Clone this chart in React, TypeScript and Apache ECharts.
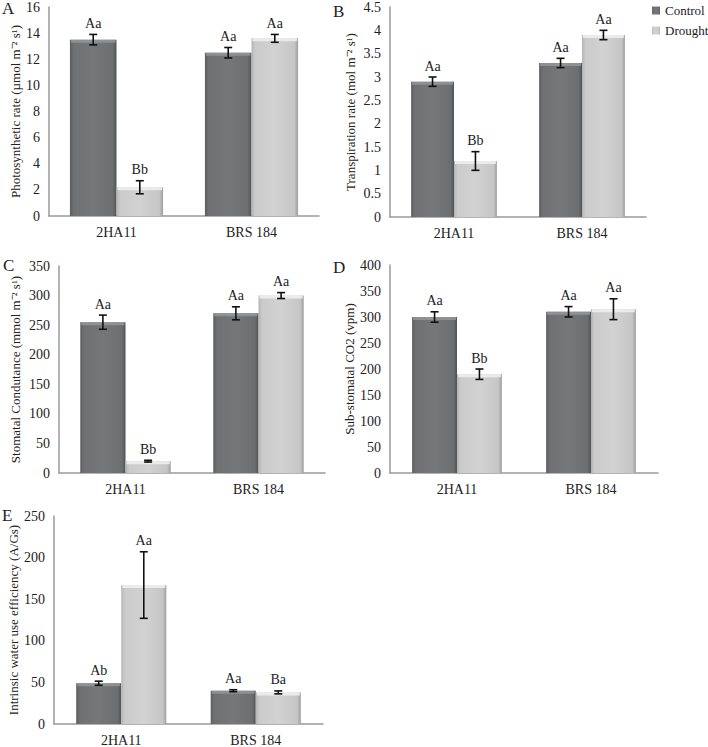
import React, { useEffect, useRef } from "react";
import * as echarts from "echarts";

const categories = ["2HA11", "BRS 184"];
const seriesNames = ["Control", "Drought"];

// A: Photosynthetic rate
const aControl = [13.5, 12.5];
const aDrought = [2.2, 13.6];
const aControlErr = [0.4, 0.4];
const aDroughtErr = [0.5, 0.3];
const aControlLbl = ["Aa", "Aa"];
const aDroughtLbl = ["Bb", "Aa"];

// B: Transpiration rate
const bControl = [2.9, 3.3];
const bDrought = [1.2, 3.9];
const bControlErr = [0.1, 0.1];
const bDroughtErr = [0.2, 0.1];
const bControlLbl = ["Aa", "Aa"];
const bDroughtLbl = ["Bb", "Aa"];

// C: Stomatal conductance
const cControl = [255, 270];
const cDrought = [20, 300];
const cControlErr = [12, 11];
const cDroughtErr = [1.5, 5];
const cControlLbl = ["Aa", "Aa"];
const cDroughtLbl = ["Bb", "Aa"];

// D: Sub-stomatal CO2
const dControl = [300, 310];
const dDrought = [190, 315];
const dControlErr = [10, 10];
const dDroughtErr = [10, 20];
const dControlLbl = ["Aa", "Aa"];
const dDroughtLbl = ["Bb", "Aa"];

// E: Intrinsic water use efficiency
const eControl = [49, 40];
const eDrought = [167, 38];
const eControlErr = [2.5, 1.2];
const eDroughtErr = [40, 1.8];
const eControlLbl = ["Ab", "Aa"];
const eDroughtLbl = ["Aa", "Ba"];

const aTicks = { min: 0, max: 16, interval: 2 };
const bTicks = { min: 0, max: 4.5, interval: 0.5 };
const cTicks = { min: 0, max: 350, interval: 50 };
const dTicks = { min: 0, max: 400, interval: 50 };
const eTicks = { min: 0, max: 250, interval: 50 };

const aTitle = "Photosynthetic rate (µmol m⁻² s¹)";
const bTitle = "Transpiration rate (mol m⁻² s¹)";
const cTitle = "Stomatal Condutance (mmol m⁻² s¹)";
const dTitle = "Sub-stomatal CO2 (vpm)";
const eTitle = "Intrinsic water use efficiency (A/Gs)";

const panelLetters = ["A", "B", "C", "D", "E"];

const FONT = '"Liberation Serif", "Times New Roman", serif';

export default function App() {
  const ref = useRef<HTMLDivElement>(null);
  useEffect(() => {
    document.body.style.margin = "0";
    if (!ref.current) return;
    const chart = echarts.init(ref.current, null, { renderer: "svg" });

    const panels = [
      { c: aControl, d: aDrought, ce: aControlErr, de: aDroughtErr, cl: aControlLbl, dl: aDroughtLbl, t: aTicks, title: aTitle,
        grid: { left: 49, top: 6, width: 270, height: 210 }, gap: 0.31, nameGap: 27 },
      { c: bControl, d: bDrought, ce: bControlErr, de: bDroughtErr, cl: bControlLbl, dl: bDroughtLbl, t: bTicks, title: bTitle,
        grid: { left: 390, top: 7, width: 256, height: 210 }, gap: 0.33, nameGap: 33 },
      { c: cControl, d: cDrought, ce: cControlErr, de: cDroughtErr, cl: cControlLbl, dl: cDroughtLbl, t: cTicks, title: cTitle,
        grid: { left: 59, top: 266, width: 266, height: 207 }, gap: 0.32, nameGap: 37 },
      { c: dControl, d: dDrought, ce: dControlErr, de: dDroughtErr, cl: dControlLbl, dl: dDroughtLbl, t: dTicks, title: dTitle,
        grid: { left: 390, top: 265, width: 268, height: 208 }, gap: 0.33, nameGap: 31 },
      { c: eControl, d: eDrought, ce: eControlErr, de: eDroughtErr, cl: eControlLbl, dl: eDroughtLbl, t: eTicks, title: eTitle,
        grid: { left: 54, top: 516, width: 269, height: 210 }, gap: 0.33, nameGap: 32 },
    ];

    const controlColor = new echarts.graphic.LinearGradient(0, 0, 1, 0, [
      { offset: 0, color: "#5b5d5f" },
      { offset: 0.08, color: "#6e7072" },
      { offset: 0.5, color: "#757779" },
      { offset: 0.92, color: "#6c6e70" },
      { offset: 1, color: "#505254" },
    ]);
    const droughtColor = new echarts.graphic.LinearGradient(0, 0, 1, 0, [
      { offset: 0, color: "#b4b4b4" },
      { offset: 0.08, color: "#cbcbcb" },
      { offset: 0.5, color: "#d2d2d2" },
      { offset: 0.92, color: "#c6c6c6" },
      { offset: 1, color: "#9e9e9e" },
    ]);

    const grids: any[] = [];
    const xAxes: any[] = [];
    const yAxes: any[] = [];
    const series: any[] = [];

    panels.forEach((p, i) => {
      grids.push({ ...p.grid, containLabel: false });
      xAxes.push({
        type: "category",
        gridIndex: i,
        data: categories,
        axisLine: { lineStyle: { color: "#9a9a9a", width: 1.5 } },
        axisTick: { show: false },
        axisLabel: { color: "#222", fontFamily: FONT, fontSize: 14, margin: 9 },
      });
      yAxes.push({
        type: "value",
        gridIndex: i,
        min: p.t.min,
        max: p.t.max,
        interval: p.t.interval,
        splitLine: { show: false },
        axisLine: { show: true, lineStyle: { color: "#9a9a9a", width: 1.5 } },
        axisTick: { show: false },
        axisLabel: { color: "#222", fontFamily: FONT, fontSize: 14, margin: 9 },
        name: p.title,
        nameLocation: "middle",
        nameGap: p.nameGap,
        nameTextStyle: { color: "#222", fontFamily: FONT, fontSize: 13 },
      });
      const vals = [p.c, p.d];
      const errs = [p.ce, p.de];
      const lbls = [p.cl, p.dl];
      [0, 1].forEach((s) => {
        series.push({
          type: "bar",
          name: seriesNames[s],
          xAxisIndex: i,
          yAxisIndex: i,
          data: vals[s],
          barGap: "0%",
          barCategoryGap: `${Math.round(p.gap * 100)}%`,
          itemStyle: { color: s === 0 ? controlColor : droughtColor },
        });
      });
      [0, 1].forEach((s) => {
        const labels = lbls[s];
        series.push({
          type: "custom",
          name: "err" + i + s,
          xAxisIndex: i,
          yAxisIndex: i,
          encode: { x: 0, y: 1 },
          data: vals[s].map((v, k) => [k, v, errs[s][k]]),
          z: 5,
          renderItem: (params: any, api: any) => {
            const ci = api.value(0);
            const v = api.value(1);
            const e = api.value(2);
            const catW = api.size([1, 0])[0];
            const barW = (catW * (1 - p.gap)) / 2;
            const off = s === 0 ? -barW / 2 : barW / 2;
            const top = api.coord([ci, v + e]);
            const bot = api.coord([ci, v - e]);
            const bar = api.coord([ci, v]);
            const x = top[0] + off;
            const cap = 4;
            const st = { stroke: "#111", lineWidth: 1.6 };
            return {
              type: "group",
              children: [
                {
                  type: "rect",
                  shape: { x: bar[0] + off - barW / 2 + 1, y: bar[1], width: barW - 2, height: 3 },
                  style: { fill: s === 0 ? "rgba(150,152,154,0.8)" : "rgba(238,238,238,0.9)" },
                },
                { type: "line", shape: { x1: x, y1: top[1], x2: x, y2: bot[1] }, style: st },
                { type: "line", shape: { x1: x - cap, y1: top[1], x2: x + cap, y2: top[1] }, style: st },
                { type: "line", shape: { x1: x - cap, y1: bot[1], x2: x + cap, y2: bot[1] }, style: st },
                {
                  type: "text",
                  style: {
                    text: labels[params.dataIndex],
                    x,
                    y: top[1] - 4,
                    textAlign: "center",
                    textVerticalAlign: "bottom",
                    font: `14px ${FONT}`,
                    fill: "#222",
                  },
                },
              ],
            };
          },
        });
      });
    });

    const letterPos = [
      { x: 2, y: 0 },
      { x: 333, y: 3 },
      { x: 3, y: 257 },
      { x: 333, y: 259 },
      { x: 2, y: 507 },
    ];

    chart.setOption({
      animation: false,
      backgroundColor: "#fff",
      textStyle: { fontFamily: FONT },
      grid: grids,
      xAxis: xAxes,
      yAxis: yAxes,
      legend: {
        data: seriesNames,
        orient: "vertical",
        left: 652,
        top: 4,
        padding: 0,
        icon: "rect",
        itemWidth: 8,
        itemHeight: 8,
        itemGap: 7,
        textStyle: { color: "#222", fontFamily: FONT, fontSize: 13 },
        selectedMode: false,
      },
      graphic: panelLetters.map((l, k) => ({
        type: "text",
        left: letterPos[k].x,
        top: letterPos[k].y,
        style: { text: l, font: `17px ${FONT}`, fill: "#222" },
      })),
      series,
    });
    return () => chart.dispose();
  }, []);
  return <div ref={ref} style={{ width: 708, height: 747 }} />;
}
